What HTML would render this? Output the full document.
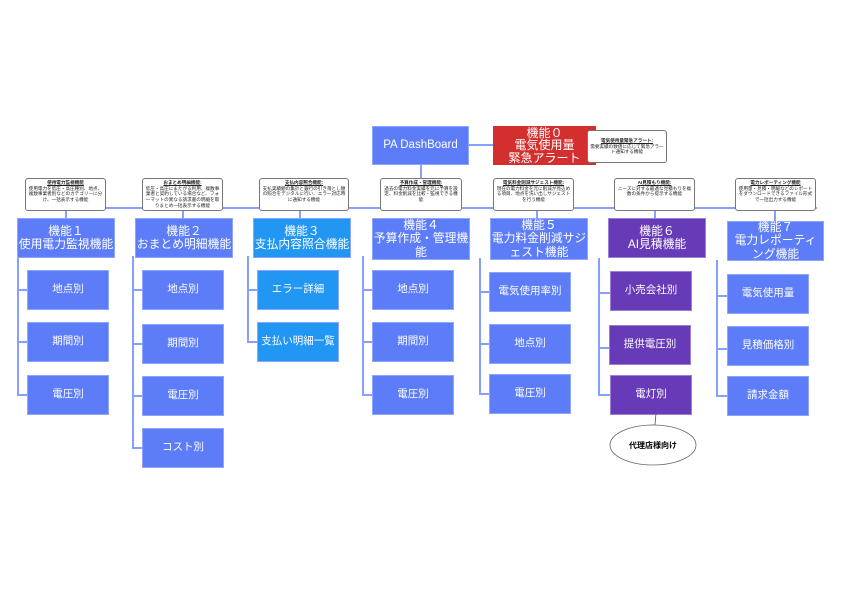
<!DOCTYPE html>
<html><head><meta charset="utf-8"><style>
body{margin:0;background:#fff;font-family:"Liberation Sans","Noto Sans CJK JP",sans-serif;}
#c{position:relative;width:842px;height:595px;overflow:hidden}
.b{position:absolute;display:flex;align-items:center;justify-content:center;text-align:center;color:#fff;box-sizing:border-box;border:1px solid #8fa6ff;line-height:1.12;white-space:nowrap;padding:0}
.m{background:#5c7cf8;font-size:11.8px}
.s{background:#5c7cf8;font-size:10.5px}
.c3{background:#2196f3}
.c6{background:#673ab7;border-color:#9a7fd6}
.n{position:absolute;background:#fff;border:1px solid #777;border-radius:3px;font-size:4.6px;color:#222;text-align:center;line-height:1.25;box-sizing:border-box;padding:1px 2px;overflow:hidden}
.n b{text-decoration:underline}
.l{position:absolute;background:#86a0ff}
</style></head><body><div id="c">
<div class="l" style="left:469px;top:144px;width:24px;height:2px"></div>
<div class="l" style="left:420px;top:165px;width:2px;height:43px"></div>
<div class="l" style="left:27px;top:207px;width:790px;height:2px"></div>
<div class="l" style="left:65px;top:208px;width:2px;height:10px"></div>
<div class="l" style="left:182px;top:208px;width:2px;height:10px"></div>
<div class="l" style="left:299px;top:208px;width:2px;height:10px"></div>
<div class="l" style="left:536px;top:208px;width:2px;height:10px"></div>
<div class="l" style="left:654px;top:208px;width:2px;height:10px"></div>
<div class="l" style="left:774px;top:208px;width:2px;height:13px"></div>
<div class="l" style="left:17px;top:258px;width:2px;height:138px"></div>
<div class="l" style="left:17px;top:289px;width:10px;height:2px"></div>
<div class="l" style="left:17px;top:341px;width:10px;height:2px"></div>
<div class="l" style="left:17px;top:394px;width:10px;height:2px"></div>
<div class="l" style="left:132px;top:256px;width:2px;height:193px"></div>
<div class="l" style="left:132px;top:289px;width:10px;height:2px"></div>
<div class="l" style="left:132px;top:343px;width:10px;height:2px"></div>
<div class="l" style="left:132px;top:395px;width:10px;height:2px"></div>
<div class="l" style="left:132px;top:447px;width:10px;height:2px"></div>
<div class="l" style="left:247px;top:256px;width:2px;height:87px"></div>
<div class="l" style="left:247px;top:289px;width:10px;height:2px"></div>
<div class="l" style="left:247px;top:341px;width:10px;height:2px"></div>
<div class="l" style="left:362px;top:256px;width:2px;height:140px"></div>
<div class="l" style="left:362px;top:289px;width:10px;height:2px"></div>
<div class="l" style="left:362px;top:341px;width:10px;height:2px"></div>
<div class="l" style="left:362px;top:394px;width:10px;height:2px"></div>
<div class="l" style="left:479px;top:258px;width:2px;height:137px"></div>
<div class="l" style="left:479px;top:291px;width:10px;height:2px"></div>
<div class="l" style="left:479px;top:343px;width:10px;height:2px"></div>
<div class="l" style="left:479px;top:393px;width:10px;height:2px"></div>
<div class="l" style="left:598px;top:258px;width:2px;height:138px"></div>
<div class="l" style="left:598px;top:292px;width:12px;height:2px"></div>
<div class="l" style="left:598px;top:347px;width:12px;height:2px"></div>
<div class="l" style="left:598px;top:394px;width:12px;height:2px"></div>
<div class="l" style="left:716px;top:260px;width:2px;height:137px"></div>
<div class="l" style="left:716px;top:295px;width:11px;height:2px"></div>
<div class="l" style="left:716px;top:348px;width:11px;height:2px"></div>
<div class="l" style="left:716px;top:395px;width:11px;height:2px"></div>
<div class="b m" style="left:372px;top:126px;width:97px;height:39px;font-size:11.5px">PA DashBoard</div>
<div class="b" style="left:493px;top:126px;width:103px;height:39px;background:#d32f2f;border-color:#d32f2f;font-size:12px;line-height:1.05">機能０<br>電気使用量<br>緊急アラート</div>
<div class="n" style="left:587px;top:130px;width:80px;height:33px;padding-top:7px"><b>電気使用量緊急アラート:</b><br>需要実績の数値に応じて緊急アラート通知する機能</div>
<div class="n" style="left:25px;top:178px;width:81px;height:33px"><b>使用電力監視機能</b><br>使用電力を低圧・高圧種別、地点、複数事業者別などのカテゴリーに分け、一括表示する機能</div>
<div class="n" style="left:142px;top:178px;width:81px;height:33px"><b>おまとめ明細機能:</b><br>低圧・高圧にまたがる利用、複数事業者と契約している場合など、フォーマットの異なる請求書の明細を取りまとめ一括表示する機能</div>
<div class="n" style="left:259px;top:178px;width:90px;height:33px"><b>支払内容照合機能:</b><br>支払実績額の集計と銀行の引き落とし額の照合をデジタルに行い、エラー対応時に通知する機能</div>
<div class="n" style="left:380px;top:178px;width:82px;height:33px"><b>予算作成・管理機能:</b><br>過去の電力料金実績を元に予算を設定、料金削減を比較・監視できる機能</div>
<div class="n" style="left:493px;top:178px;width:81px;height:33px"><b>電気料金削減サジェスト機能:</b><br>現在の電力料金を元に削減が見込める項目、地点を洗い出しサジェストを行う機能</div>
<div class="n" style="left:614px;top:178px;width:81px;height:33px"><b>AI見積もり機能:</b><br>ニーズに対する最適な見積もりを複数の条件から提示する機能</div>
<div class="n" style="left:735px;top:178px;width:81px;height:33px"><b>電力レポーティング機能</b><br>使用量・見積・明細などのレポートをダウンロードできるファイル形式で一括出力する機能</div>
<div class="b m" style="left:17px;top:218px;width:98px;height:40px">機能１<br>使用電力監視機能</div>
<div class="b m" style="left:135px;top:218px;width:98px;height:40px">機能２<br>おまとめ明細機能</div>
<div class="b m c3" style="left:253px;top:218px;width:98px;height:40px">機能３<br>支払内容照合機能</div>
<div class="b m" style="left:372px;top:218px;width:98px;height:42px">機能４<br>予算作成・管理機<br>能</div>
<div class="b m" style="left:490px;top:218px;width:98px;height:42px">機能５<br>電力料金削減サジ<br>ェスト機能</div>
<div class="b m c6" style="left:608px;top:218px;width:98px;height:40px">機能６<br>AI見積機能</div>
<div class="b m" style="left:727px;top:221px;width:97px;height:40px">機能７<br>電力レポーティ<br>ング機能</div>
<div class="b s" style="left:27px;top:270px;width:82px;height:40px">地点別</div>
<div class="b s" style="left:27px;top:322px;width:82px;height:40px">期間別</div>
<div class="b s" style="left:27px;top:375px;width:82px;height:40px">電圧別</div>
<div class="b s" style="left:142px;top:270px;width:82px;height:40px">地点別</div>
<div class="b s" style="left:142px;top:324px;width:82px;height:40px">期間別</div>
<div class="b s" style="left:142px;top:376px;width:82px;height:40px">電圧別</div>
<div class="b s" style="left:142px;top:428px;width:82px;height:40px">コスト別</div>
<div class="b s c3" style="left:257px;top:270px;width:82px;height:40px">エラー詳細</div>
<div class="b s c3" style="left:257px;top:322px;width:82px;height:40px">支払い明細一覧</div>
<div class="b s" style="left:372px;top:270px;width:82px;height:40px">地点別</div>
<div class="b s" style="left:372px;top:322px;width:82px;height:40px">期間別</div>
<div class="b s" style="left:372px;top:375px;width:82px;height:40px">電圧別</div>
<div class="b s" style="left:489px;top:272px;width:82px;height:40px">電気使用率別</div>
<div class="b s" style="left:489px;top:324px;width:82px;height:40px">地点別</div>
<div class="b s" style="left:489px;top:374px;width:82px;height:40px">電圧別</div>
<div class="b s c6" style="left:610px;top:271px;width:82px;height:40px">小売会社別</div>
<div class="b s c6" style="left:609px;top:325px;width:82px;height:40px">提供電圧別</div>
<div class="b s c6" style="left:610px;top:375px;width:82px;height:40px">電灯別</div>
<div class="b s" style="left:727px;top:274px;width:82px;height:40px">電気使用量</div>
<div class="b s" style="left:727px;top:326px;width:82px;height:40px">見積価格別</div>
<div class="b s" style="left:727px;top:376px;width:82px;height:40px">請求金額</div>
<svg style="position:absolute;left:0;top:0" width="842" height="595">
<path d="M656 413 L655 425 L651 425" fill="none" stroke="#555" stroke-width="0.8"/>
<ellipse cx="653" cy="445" rx="43" ry="20" fill="#fff" stroke="#666" stroke-width="0.8"/>
<text x="653" y="448" font-size="8" font-weight="bold" text-anchor="middle" font-family="Liberation Sans, Noto Sans CJK JP, sans-serif">代理店様向け</text>
</svg>
</div></body></html>
